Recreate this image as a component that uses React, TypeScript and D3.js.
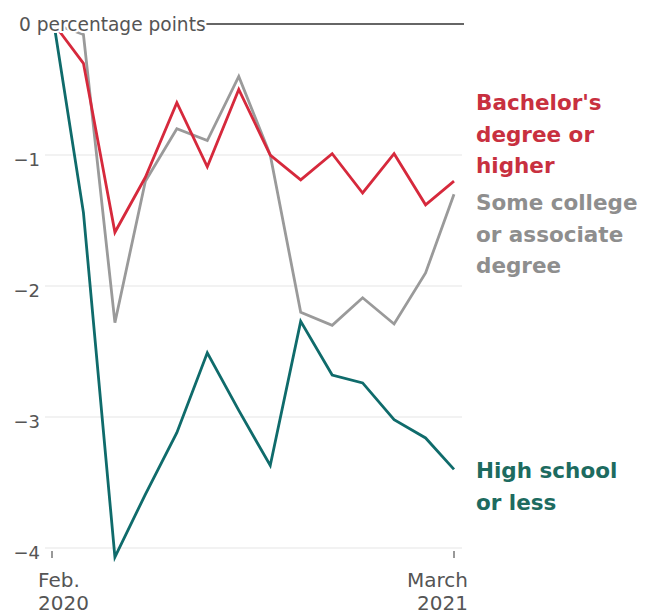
import React from "react";
import * as d3 from "d3";

const months = [
  "2020-02", "2020-03", "2020-04", "2020-05", "2020-06", "2020-07", "2020-08",
  "2020-09", "2020-10", "2020-11", "2020-12", "2021-01", "2021-02", "2021-03",
];
const bachelors = [0, -0.3, -1.59, -1.17, -0.6, -1.09, -0.5, -1.0, -1.19, -0.99, -1.29, -0.99, -1.38, -1.2];
const someCollege = [0, -0.08, -2.28, -1.2, -0.8, -0.89, -0.4, -1.0, -2.2, -2.3, -2.09, -2.29, -1.9, -1.3];
const highSchool = [0, -1.44, -4.07, -3.59, -3.12, -2.51, -2.95, -3.37, -2.27, -2.68, -2.74, -3.02, -3.16, -3.4];
const yTicks = [0, -1, -2, -3, -4];
const yTickLabels = ["0 percentage points", "−1", "−2", "−3", "−4"];
const xTickLabels = [
  { month: "2020-02", lines: ["Feb.", "2020"] },
  { month: "2021-03", lines: ["March", "2021"] },
];
const seriesLabels = [
  { key: "bachelors", lines: ["Bachelor's", "degree or", "higher"] },
  { key: "someCollege", lines: ["Some college", "or associate", "degree"] },
  { key: "highSchool", lines: ["High school", "or less"] },
];

const W = 652;
const H = 614;
const FONT = "'DejaVu Sans', sans-serif";

export default function App() {
  const parse = d3.timeParse("%Y-%m");
  const dates = months.map((m) => parse(m) as Date);
  const x = d3.scaleTime().domain([dates[0], dates[dates.length - 1]]).range([54, 454]);
  const y = d3.scaleLinear().domain([0, -4]).range([24, 548]);

  const line = d3
    .line<number>()
    .x((_, i) => x(dates[i]))
    .y((v) => y(v));

  const series = [
    { key: "someCollege", values: someCollege, stroke: "#9a9a9a", text: "#8e8e8e", labelY: 210 },
    { key: "highSchool", values: highSchool, stroke: "#0f6b6b", text: "#1d6b60", labelY: 478 },
    { key: "bachelors", values: bachelors, stroke: "#d6293c", text: "#c8303f", labelY: 110 },
  ];

  return (
    <svg
      width={W}
      height={H}
      style={{ position: "absolute", left: 0, top: 0, background: "#fff" }}
      fontFamily={FONT}
    >
      {/* gridlines */}
      {yTicks.slice(1).map((t) => (
        <line key={t} x1={45} x2={462} y1={y(t)} y2={y(t)} stroke="#e6e6e6" strokeWidth={1.2} />
      ))}
      {/* zero line */}
      <line x1={205} x2={464} y1={y(0)} y2={y(0)} stroke="#333" strokeWidth={1.5} />

      {/* lines */}
      {series.map((s) => (
        <path
          key={s.key}
          d={line(s.values) || ""}
          fill="none"
          stroke={s.stroke}
          strokeWidth={2.8}
          strokeLinejoin="miter"
        />
      ))}

      {/* y labels */}
      {yTicks.map((t, i) =>
        i === 0 ? (
          <text
            key={t}
            x={19}
            y={y(t)}
            dy="0.35em"
            fontSize={18.6}
            fill="#555"
            stroke="#fff"
            strokeWidth={4}
            paintOrder="stroke"
          >
            {yTickLabels[i]}
          </text>
        ) : (
          <text key={t} x={40} y={y(t) + 5} dy="0.35em" textAnchor="end" fontSize={18} fill="#555">
            {yTickLabels[i]}
          </text>
        )
      )}

      {/* x ticks */}
      {xTickLabels.map((tk, i) => {
        const xv = x(parse(tk.month) as Date);
        const anchor = i === 0 ? "start" : "end";
        const tx = i === 0 ? xv - 16 : xv + 14;
        return (
          <g key={tk.month}>
            <line x1={xv - (i === 0 ? 2 : 0)} x2={xv - (i === 0 ? 2 : 0)} y1={551} y2={558} stroke="#555" strokeWidth={1.2} />
            {tk.lines.map((l, j) => (
              <text key={j} x={tx} y={587 + j * 23} textAnchor={anchor} fontSize={20} fill="#555">
                {l}
              </text>
            ))}
          </g>
        );
      })}

      {/* series labels */}
      {series.map((s) => {
        const lab = seriesLabels.find((l) => l.key === s.key)!;
        return (
          <text key={s.key} fontSize={21.5} fontWeight="bold" fill={s.text}>
            {lab.lines.map((l, j) => (
              <tspan key={j} x={476} y={s.labelY + j * 31.5}>
                {l}
              </tspan>
            ))}
          </text>
        );
      })}
    </svg>
  );
}
